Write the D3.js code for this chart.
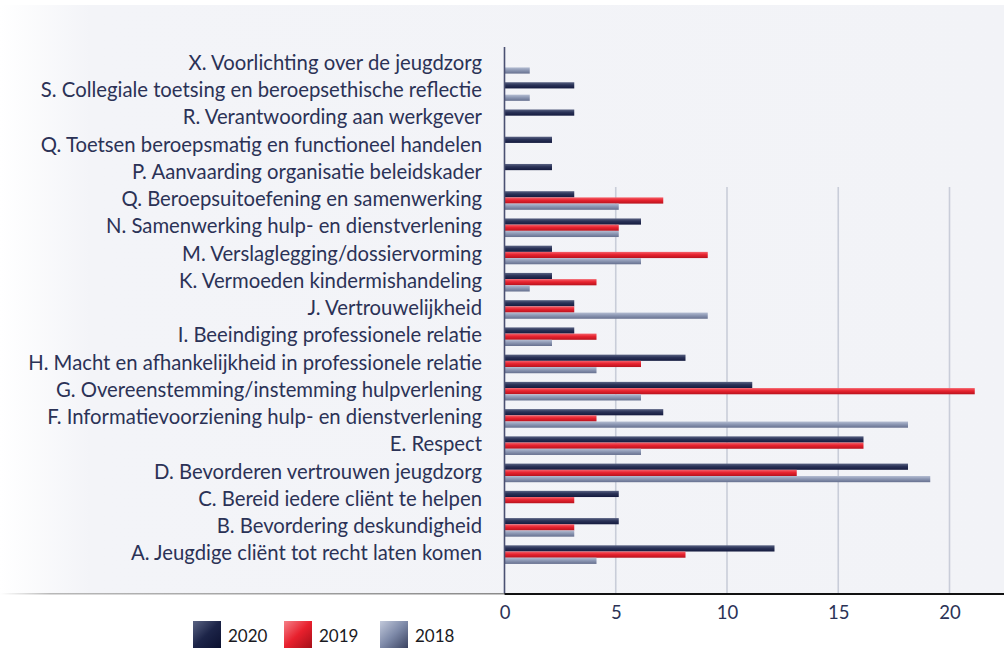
<!DOCTYPE html>
<html><head><meta charset="utf-8">
<script src="https://cdn.jsdelivr.net/npm/d3@7"></script>
<style>html,body{margin:0;padding:0;background:#fff;}svg{display:block;}</style>
</head><body>
<script>
const categories = [
  "X. Voorlichting over de jeugdzorg",
  "S. Collegiale toetsing en beroepsethische reflectie",
  "R. Verantwoording aan werkgever",
  "Q. Toetsen beroepsmatig en functioneel handelen",
  "P. Aanvaarding organisatie beleidskader",
  "Q. Beroepsuitoefening en samenwerking",
  "N. Samenwerking hulp- en dienstverlening",
  "M. Verslaglegging/dossiervorming",
  "K. Vermoeden kindermishandeling",
  "J. Vertrouwelijkheid",
  "I. Beeindiging professionele relatie",
  "H. Macht en afhankelijkheid in professionele relatie",
  "G. Overeenstemming/instemming hulpverlening",
  "F. Informatievoorziening hulp- en dienstverlening",
  "E. Respect",
  "D. Bevorderen vertrouwen jeugdzorg",
  "C. Bereid iedere cliënt te helpen",
  "B. Bevordering deskundigheid",
  "A. Jeugdige cliënt tot recht laten komen"
];
const seriesNames = ["2020", "2019", "2018"];
const values2020 = [0, 3, 3, 2, 2, 3, 6, 2, 2, 3, 3, 8, 11, 7, 16, 18, 5, 5, 12];
const values2019 = [0, 0, 0, 0, 0, 7, 5, 9, 4, 3, 4, 6, 21, 4, 16, 13, 3, 3, 8];
const values2018 = [1, 1, 0, 0, 0, 5, 5, 6, 1, 9, 2, 4, 6, 18, 6, 19, 0, 3, 4];
const xTicks = [0, 5, 10, 15, 20];

const W = 1004, H = 651;
const svg = d3.select("body").append("svg").attr("width", W).attr("height", H);
const defs = svg.append("defs");

// background gradient (fade to white on left)
const bg = defs.append("linearGradient").attr("id", "bgGrad").attr("x1", 0).attr("x2", 1).attr("y1", 0).attr("y2", 0);
bg.append("stop").attr("offset", "0").attr("stop-color", "#ffffff");
bg.append("stop").attr("offset", "0.09").attr("stop-color", "#f3f4f8");
bg.append("stop").attr("offset", "1").attr("stop-color", "#f2f3f7");
svg.append("rect").attr("x", 0).attr("y", 5).attr("width", W).attr("height", 589).attr("fill", "url(#bgGrad)");

const gradDefs = [
  { id: "g2020", stops: ["#5a6383", "#2a3257", "#141a3e"] },
  { id: "g2019", stops: ["#f4626b", "#e8232f", "#b8121d"] },
  { id: "g2018", stops: ["#b4bdd2", "#8d98b4", "#66708f"] }
];
gradDefs.forEach(g => {
  const lg = defs.append("linearGradient").attr("id", g.id).attr("x1", 0).attr("x2", 0).attr("y1", 0).attr("y2", 1);
  lg.append("stop").attr("offset", "0").attr("stop-color", g.stops[0]);
  lg.append("stop").attr("offset", "0.45").attr("stop-color", g.stops[1]);
  lg.append("stop").attr("offset", "1").attr("stop-color", g.stops[2]);
});
const legGrads = [
  { id: "l2020", stops: ["#5a6383", "#1c2448", "#0c1130"] },
  { id: "l2019", stops: ["#f58088", "#e8202d", "#a50f19"] },
  { id: "l2018", stops: ["#c2c9db", "#7d89a8", "#3a4260"] }
];
legGrads.forEach(g => {
  const lg = defs.append("linearGradient").attr("id", g.id).attr("x1", 0).attr("x2", 1).attr("y1", 0).attr("y2", 1);
  lg.append("stop").attr("offset", "0").attr("stop-color", g.stops[0]);
  lg.append("stop").attr("offset", "0.5").attr("stop-color", g.stops[1]);
  lg.append("stop").attr("offset", "1").attr("stop-color", g.stops[2]);
});

const x0 = 504.5;
const x = d3.scaleLinear().domain([0, 20]).range([x0, x0 + 20 * 22.25]);
const step = 27.24;
const y = d3.scaleBand().domain(categories).range([64.3 - step / 2, 64.3 - step / 2 + step * categories.length]).padding(0);
const barH = 6.2;
const inner = d3.scaleBand().domain(seriesNames).range([-barH * 1.5, barH * 1.5]).padding(0);

const table = categories.map((c, i) => ({ cat: c, vals: { "2020": values2020[i], "2019": values2019[i], "2018": values2018[i] } }));

// gridlines
svg.append("g").selectAll("line").data(xTicks.filter(t => t > 0)).join("line")
  .attr("x1", d => x(d)).attr("x2", d => x(d))
  .attr("y1", 187).attr("y2", 594)
  .attr("stroke", "#c9cdd9").attr("stroke-width", 1.6);

// bars
const groups = svg.append("g").selectAll("g").data(table).join("g")
  .attr("transform", d => `translate(0,${y(d.cat) + y.bandwidth() / 2})`);
groups.selectAll("rect").data(d => seriesNames.map(s => ({ s, v: d.vals[s] })).filter(e => e.v > 0)).join("rect")
  .attr("x", x(0))
  .attr("y", d => inner(d.s))
  .attr("width", d => x(d.v) - x(0) + 3)
  .attr("height", barH)
  .attr("fill", d => `url(#g${d.s})`);

// vertical axis line
svg.append("line").attr("x1", x(0)).attr("x2", x(0)).attr("y1", 47).attr("y2", 594)
  .attr("stroke", "#4a5072").attr("stroke-width", 1.6);

// bottom line
const bl = defs.append("linearGradient").attr("id", "blGrad").attr("x1", 0).attr("x2", 1).attr("y1", 0).attr("y2", 0);
bl.append("stop").attr("offset", "0").attr("stop-color", "#ffffff");
bl.append("stop").attr("offset", "0.1").attr("stop-color", "#b8b8b8");
bl.append("stop").attr("offset", "1").attr("stop-color", "#8a8a8a");
svg.append("rect").attr("x", 0).attr("y", 593).attr("width", x(0)).attr("height", 1.5).attr("fill", "url(#blGrad)");
svg.append("line").attr("x1", x(0)).attr("x2", W).attr("y1", 594).attr("y2", 594)
  .attr("stroke", "#111").attr("stroke-width", 2);

// category labels
const labelFont = "Lato, 'Open Sans', sans-serif";
svg.append("g").selectAll("text").data(categories).join("text")
  .attr("x", 482)
  .attr("y", d => y(d) + y.bandwidth() / 2 - 1.5)
  .attr("dy", "0.35em")
  .attr("text-anchor", "end")
  .attr("font-family", labelFont)
  .attr("font-size", 20.3)
  .attr("fill", "#2b3256")
  .text(d => d);

// x axis
const xAxis = d3.axisBottom(x).tickValues(xTicks).tickSize(0).tickPadding(12).tickFormat(d3.format("d"));
const ax = svg.append("g").attr("transform", "translate(0,594)").call(xAxis);
ax.select(".domain").remove();
ax.selectAll("text").attr("font-family", labelFont).attr("font-size", 18.5).attr("fill", "#2b3256");

// legend
const legX = [193, 284, 380];
const leg = svg.append("g").selectAll("g").data(seriesNames).join("g")
  .attr("transform", (d, i) => `translate(${legX[i]},621)`);
leg.append("rect").attr("width", 28).attr("height", 27).attr("fill", d => `url(#l${d})`);
leg.append("text").attr("x", 35).attr("y", 15).attr("dy", "0.35em")
  .attr("font-family", labelFont).attr("font-size", 17).attr("fill", "#1a1a22").text(d => d);
</script>
</body></html>
